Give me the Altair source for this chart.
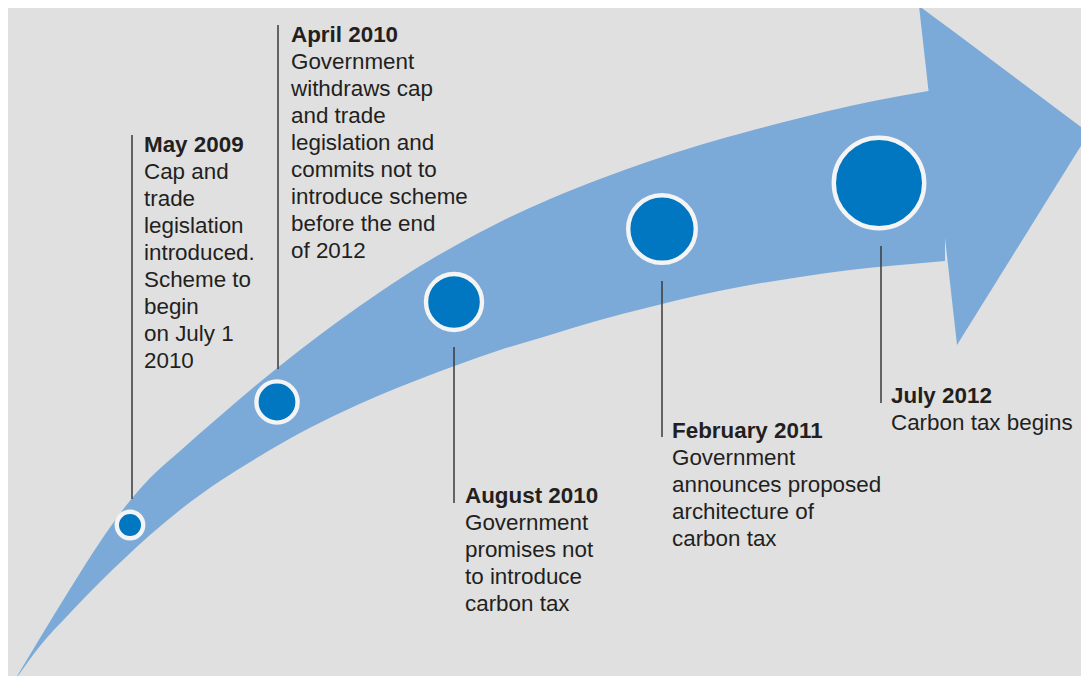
import altair as alt
import pandas as pd

# ---- content -------------------------------------------------------------
dates = ["May 2009", "April 2010", "August 2010", "February 2011", "July 2012"]
descriptions = [
    "Cap and\ntrade\nlegislation\nintroduced.\nScheme to\nbegin\non July 1\n2010",
    "Government\nwithdraws cap\nand trade\nlegislation and\ncommits not to\nintroduce scheme\nbefore the end\nof 2012",
    "Government\npromises not\nto introduce\ncarbon tax",
    "Government\nannounces proposed\narchitecture of\ncarbon tax",
    "Carbon tax begins",
]

# ---- layout (page pixel coordinates) -------------------------------------
marker_x = [130, 277, 454, 662, 879]
marker_y = [525, 402, 302, 229, 183]
marker_r = [13.2, 20.6, 28.0, 33.8, 45.2]

leader_x = [132, 278, 454, 662, 881]
leader_top = [135, 25, 347, 281, 246]
leader_bottom = [499, 369, 503, 437, 403]

label_x = [144, 291, 465, 672, 891]
label_y = [152, 42, 503, 438, 403]

# curved arrow body: upper and lower edge
arrow_x = [13, 40, 70, 100, 125, 150, 180, 220, 260, 300, 340, 380, 420, 460,
           500, 550, 600, 650, 700, 750, 800, 850, 900, 945]
arrow_upper = [683, 638, 589, 542, 507, 478, 451, 416, 382, 350, 320, 292, 266, 243,
               222, 199, 179, 161, 145, 131, 118, 106, 96, 88]
arrow_lower = [683, 646, 613, 582, 558, 535, 510, 481, 456, 433, 413, 395, 379, 364,
               350, 335, 320, 307, 295, 285, 277, 270, 265, 261]

# arrow head (triangle)
head_x = [919, 957, 1089]
head_upper = [6, 34, 133]
head_lower = [6, 345, 133]

# ---- tables ----------------------------------------------------------------
events = pd.DataFrame({
    "date": dates,
    "desc": descriptions,
    "mx": marker_x,
    "my": marker_y,
    "msize": [(2 * r) ** 2 for r in marker_r],
    "lx": leader_x,
    "ly1": leader_top,
    "ly2": leader_bottom,
    "tx": label_x,
    "ty": label_y,
})
body = pd.DataFrame({"x": arrow_x, "y": arrow_upper, "y2": arrow_lower})
head = pd.DataFrame({"x": head_x, "y": head_upper, "y2": head_lower})

# the page has an 8px margin: plot area covers page pixels 8..1081 x 8..676
W, H = 1073, 668
xs = alt.Scale(domain=[8, 1081], nice=False, zero=False)
ys = alt.Scale(domain=[8, 676], nice=False, zero=False, reverse=True)

ARROW = "#7baad9"
DOT = "#0077c0"
TEXT = "#231f20"
FONT = "Liberation Sans"
FS = 22.4

body_layer = alt.Chart(body).mark_area(color=ARROW, interpolate="monotone", clip=True).encode(
    x=alt.X("x:Q", scale=xs, axis=None),
    y=alt.Y("y:Q", scale=ys, axis=None),
    y2="y2:Q",
)
head_layer = alt.Chart(head).mark_area(color=ARROW, interpolate="linear", clip=True).encode(
    x=alt.X("x:Q", scale=xs, axis=None),
    y=alt.Y("y:Q", scale=ys, axis=None),
    y2="y2:Q",
)

base = alt.Chart(events)

leaders = base.mark_rule(color="#3a3a3a", strokeWidth=1.5).encode(
    x=alt.X("lx:Q", scale=xs, axis=None),
    y=alt.Y("ly1:Q", scale=ys, axis=None),
    y2="ly2:Q",
)

markers = base.mark_point(
    shape="circle", filled=True, fill=DOT, fillOpacity=1,
    stroke="#f4f4f4", strokeWidth=4.4, opacity=1,
).encode(
    x=alt.X("mx:Q", scale=xs, axis=None),
    y=alt.Y("my:Q", scale=ys, axis=None),
    size=alt.Size("msize:Q", scale=None, legend=None),
)

headings = base.mark_text(
    font=FONT, fontSize=FS, fontWeight="bold", align="left",
    baseline="alphabetic", color=TEXT,
).encode(
    x=alt.X("tx:Q", scale=xs, axis=None),
    y=alt.Y("ty:Q", scale=ys, axis=None),
    text="date:N",
)

bodies = base.mark_text(
    font=FONT, fontSize=FS, align="left", baseline="alphabetic",
    color=TEXT, dy=27, lineBreak="\n", lineHeight=27,
).encode(
    x=alt.X("tx:Q", scale=xs, axis=None),
    y=alt.Y("ty:Q", scale=ys, axis=None),
    text="desc:N",
)

chart = alt.layer(body_layer, head_layer, leaders, markers, headings, bodies).properties(
    width=W, height=H, padding=0, background="#e0e0e0",
).configure_view(stroke=None)

chart.save("out.html", embed_options={"renderer": "svg", "actions": False})
